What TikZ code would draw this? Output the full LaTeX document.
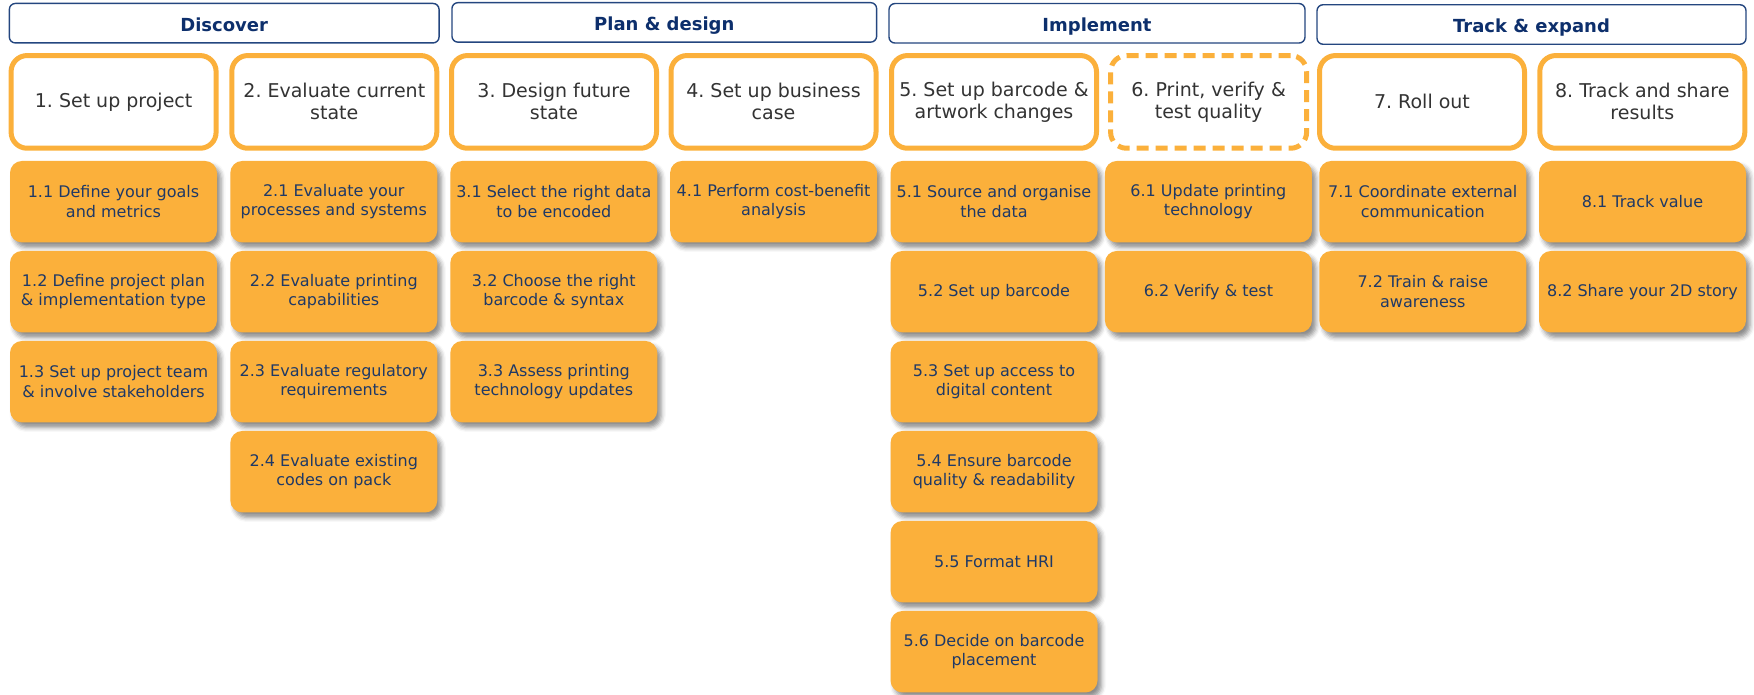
\documentclass[tikz,border=0pt]{standalone}
\usepackage{fontspec}
\setmainfont{DejaVu Sans}
\usetikzlibrary{shadows.blur}
\definecolor{gsorange}{HTML}{FBB03B}
\definecolor{phaseline}{HTML}{24467F}
\definecolor{phasetext}{HTML}{0D2F6C}
\definecolor{steptext}{HTML}{333333}
\definecolor{subtext}{HTML}{1F3966}
\begin{document}
\frenchspacing
\begin{tikzpicture}[x=1pt,y=-1pt,
  phase/.style={draw=phaseline, fill=white, line width=1.4pt, rounded corners=6pt,
    minimum height=39.5pt, text=phasetext, inner sep=0pt,
    text height=18pt, text depth=2pt,
    font=\fontsize{18}{20}\selectfont\bfseries},
  stepbox/.style={draw=gsorange, fill=white, line width=5pt, rounded corners=16pt,
    minimum width=205pt, minimum height=92.7pt, align=center, text=steptext,
    inner sep=0pt, font=\fontsize{19}{22}\selectfont},
  dashstep/.style={stepbox, minimum width=196pt, dash pattern=on 12pt off 7pt},
  subbox/.style={fill=gsorange, rounded corners=12pt, minimum width=207pt,
    minimum height=81.5pt, align=center, text=subtext, inner sep=0pt,
    font=\fontsize{16}{19.5}\selectfont,
    blur shadow={shadow xshift=4pt, shadow yshift=-5pt,
      shadow blur radius=4.5pt, shadow opacity=45}},
]
\useasboundingbox (0,0) rectangle (1754,695);

% phase headers
\node[phase, minimum width=429.7pt] (ph1) at (224.2,23.2) {Discover};
\node[phase, minimum width=424.7pt] (ph2) at (664.3,22.4) {Plan \& design};
\node[phase, minimum width=416pt]   (ph3) at (1097,23.3) {Implement};
\node[phase, minimum width=429pt]   (ph4) at (1531.5,24.5) {Track \& expand};

% main steps
\node[stepbox] (st1) at (113.6,101.9) {1. Set up project};
\node[stepbox] (st2) at (334.3,101.9) {2. Evaluate current\\state};
\node[stepbox] (st3) at (554,101.9) {3. Design future\\state};
\node[stepbox] (st4) at (773.5,101.9) {4. Set up business\\case};
\node[stepbox] (st5) at (994,101.9) {5. Set up barcode \&\\artwork changes};
\node[dashstep] (st6) at (1208.6,101.9) {6. Print, verify \&\\test quality};
\node[stepbox] (st7) at (1422,101.9) {7. Roll out};
\node[stepbox] (st8) at (1642.3,101.9) {8. Track and share\\results};

% sub-steps, column 1
\node[subbox] (s11) at (113.5,201.7) {1.1 Define your goals\\and metrics};
\node[subbox] (s12) at (113.5,291.7) {1.2 Define project plan\\\& implementation type};
\node[subbox] (s13) at (113.5,381.7) {1.3 Set up project team\\\& involve stakeholders};
% column 2
\node[subbox] (s21) at (333.8,201.7) {2.1 Evaluate your\\processes and systems};
\node[subbox] (s22) at (333.8,291.7) {2.2 Evaluate printing\\capabilities};
\node[subbox] (s23) at (333.8,381.7) {2.3 Evaluate regulatory\\requirements};
\node[subbox] (s24) at (333.8,471.7) {2.4 Evaluate existing\\codes on pack};
% column 3
\node[subbox] (s31) at (553.8,201.7) {3.1 Select the right data\\to be encoded};
\node[subbox] (s32) at (553.8,291.7) {3.2 Choose the right\\barcode \& syntax};
\node[subbox] (s33) at (553.8,381.7) {3.3 Assess printing\\technology updates};
% column 4
\node[subbox] (s41) at (773.6,201.7) {4.1 Perform cost-benefit\\analysis};
% column 5
\node[subbox] (s51) at (994,201.7) {5.1 Source and organise\\the data};
\node[subbox] (s52) at (994,291.7) {5.2 Set up barcode};
\node[subbox] (s53) at (994,381.7) {5.3 Set up access to\\digital content};
\node[subbox] (s54) at (994,471.7) {5.4 Ensure barcode\\quality \& readability};
\node[subbox] (s55) at (994,561.7) {5.5 Format HRI};
\node[subbox] (s56) at (994,651.7) {5.6 Decide on barcode\\placement};
% column 6
\node[subbox] (s61) at (1208.4,201.7) {6.1 Update printing\\technology};
\node[subbox] (s62) at (1208.4,291.7) {6.2 Verify \& test};
% column 7
\node[subbox] (s71) at (1422.8,201.7) {7.1 Coordinate external\\communication};
\node[subbox] (s72) at (1422.8,291.7) {7.2 Train \& raise\\awareness};
% column 8
\node[subbox] (s81) at (1642.5,201.7) {8.1 Track value};
\node[subbox] (s82) at (1642.5,291.7) {8.2 Share your 2D story};
\end{tikzpicture}
\end{document}
